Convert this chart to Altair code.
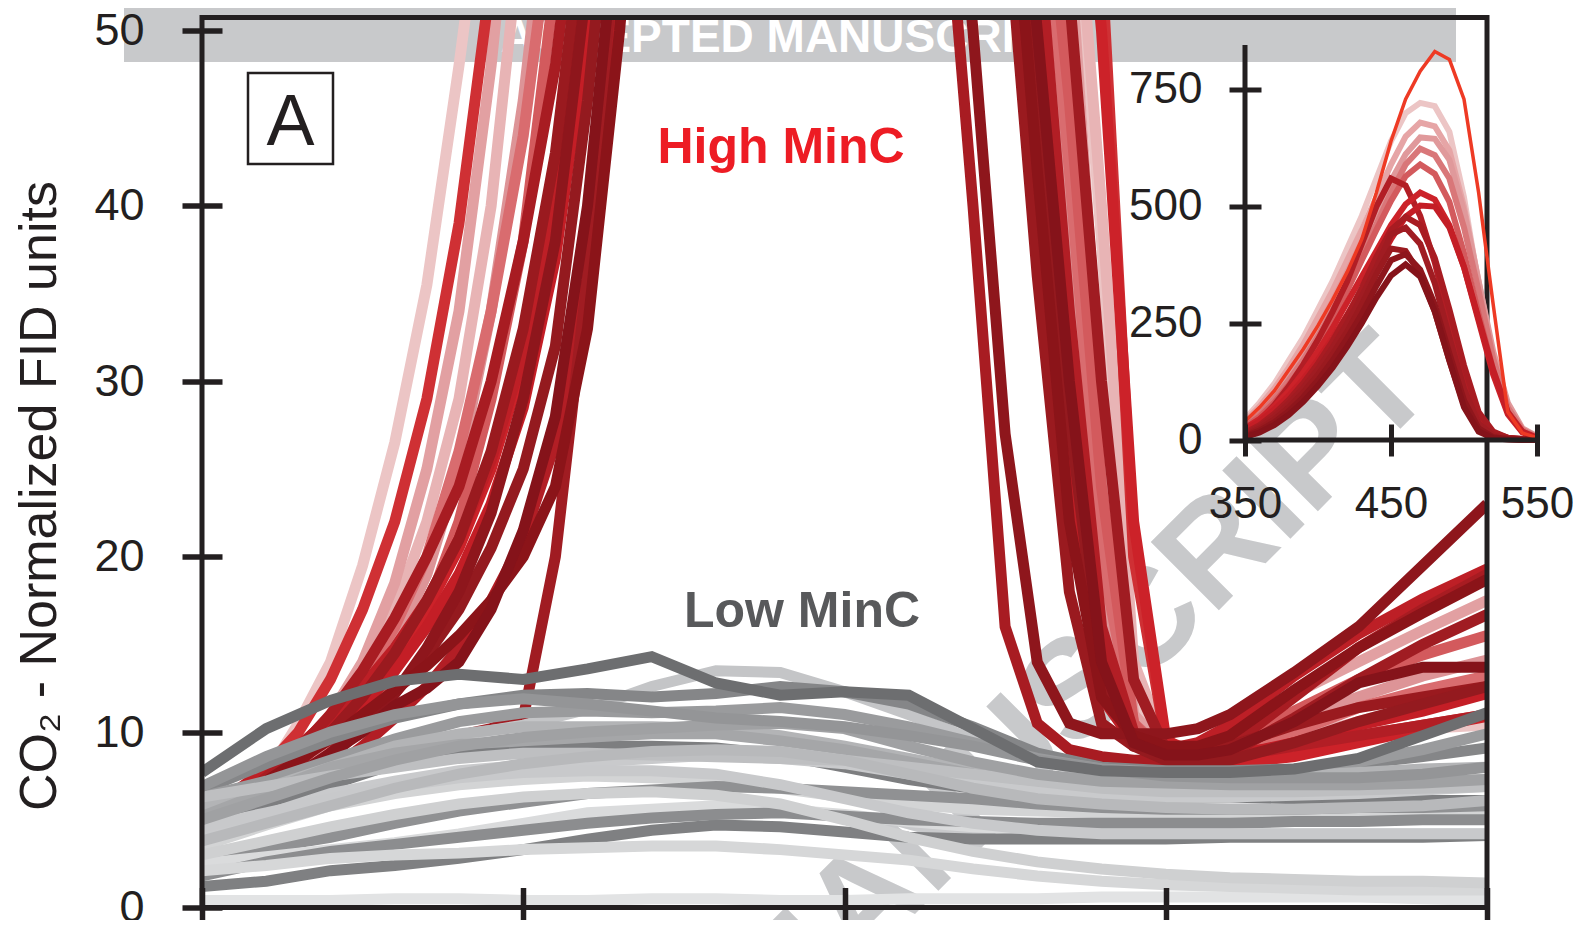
import altair as alt
import pandas as pd

FONT = "Liberation Sans"
INK = "#231f20"

# ---------------- main panel data ----------------
T_GRAY = list(range(300, 701, 20))
GRAY_COLORS = ["#c4c5c7", "#858688", "#9a9b9d", "#b3b4b6", "#7d7e80", "#a5a6a8", "#c9cacc",
               "#d3d4d5", "#909193", "#bebfc1", "#dadbdc", "#7f8082", "#8c8d8f", "#e2e3e4",
               "#d6d7d8", "#cfd0d1", "#c8c9cb", "#a0a1a3", "#b8b9bb", "#949597", "#6d6e70"]
GRAY_VALUES = [
    [5.5, 6.8, 8.0, 9.0, 9.8, 10.4, 11.3, 12.6, 13.5, 13.4, 12.3, 11.0, 9.6, 8.4, 7.6, 7.2, 7.0, 6.9, 6.9, 7.0, 7.2],
    [6.7, 8.2, 9.6, 10.8, 11.6, 12.1, 12.2, 12.0, 12.2, 12.6, 12.3, 11.6, 10.3, 8.8, 8.0, 7.8, 7.8, 7.9, 8.2, 8.6, 9.1],
    [6.3, 7.2, 8.4, 9.6, 10.6, 11.1, 11.2, 11.1, 11.2, 11.4, 11.0, 10.3, 9.4, 8.5, 7.9, 7.7, 7.6, 7.8, 8.3, 9.0, 9.9],
    [5.7, 6.8, 8.0, 9.2, 9.9, 10.3, 10.3, 10.3, 10.2, 9.8, 9.2, 8.5, 7.8, 7.4, 7.3, 7.3, 7.4, 7.5, 7.7, 7.9, 8.0],
    [4.6, 5.8, 7.0, 8.2, 8.9, 9.2, 9.2, 9.2, 9.1, 8.7, 8.0, 7.3, 6.8, 6.5, 6.4, 6.3, 6.3, 6.2, 6.2, 6.1, 6.1],
    [5.2, 6.6, 8.0, 8.8, 9.3, 9.5, 9.7, 9.9, 9.9, 9.5, 9.0, 8.3, 7.6, 7.2, 7.0, 7.0, 7.0, 7.1, 7.1, 7.2, 7.3],
    [4.0, 5.3, 6.5, 7.2, 7.8, 8.1, 8.3, 8.5, 8.7, 8.5, 8.2, 7.6, 7.0, 6.6, 6.4, 6.3, 6.3, 6.4, 6.5, 6.7, 6.9],
    [3.5, 4.7, 5.8, 6.5, 7.0, 7.3, 7.5, 7.4, 7.3, 6.8, 6.3, 5.9, 5.6, 5.5, 5.4, 5.4, 5.4, 5.4, 5.4, 5.4, 5.4],
    [2.9, 3.4, 4.0, 4.8, 5.5, 6.0, 6.5, 6.7, 6.9, 6.8, 6.6, 6.4, 6.2, 5.9, 5.7, 5.6, 5.6, 5.6, 5.7, 5.7, 5.8],
    [6.3, 6.9, 7.5, 8.0, 8.5, 8.8, 8.8, 8.7, 8.6, 8.5, 8.4, 8.0, 7.6, 7.2, 6.8, 6.6, 6.6, 6.6, 6.7, 6.8, 6.9],
    [2.5, 2.9, 3.3, 3.7, 4.2, 4.8, 5.4, 5.6, 5.8, 5.6, 5.3, 4.9, 4.6, 4.4, 4.3, 4.2, 4.2, 4.2, 4.2, 4.2, 4.2],
    [1.2, 1.5, 2.1, 2.4, 2.8, 3.3, 3.9, 4.4, 4.7, 4.6, 4.3, 4.0, 3.9, 3.9, 3.9, 3.9, 4.0, 4.0, 4.0, 4.0, 4.1],
    [1.8, 2.6, 3.2, 3.6, 4.0, 4.4, 4.8, 5.1, 5.3, 5.4, 5.2, 5.0, 4.9, 4.8, 4.8, 4.8, 4.8, 4.9, 4.9, 5.0, 5.0],
    [0.4, 0.4, 0.4, 0.5, 0.5, 0.4, 0.4, 0.5, 0.5, 0.4, 0.4, 0.5, 0.5, 0.5, 0.6, 0.6, 0.6, 0.6, 0.6, 0.5, 0.4],
    [2.1, 2.4, 2.8, 3.0, 3.1, 3.3, 3.4, 3.5, 3.5, 3.3, 3.0, 2.7, 2.2, 1.8, 1.5, 1.3, 1.2, 1.1, 1.0, 1.0, 1.0],
    [3.0, 3.8, 4.6, 5.3, 5.9, 6.3, 6.5, 6.6, 6.4, 5.9, 5.0, 4.0, 3.2, 2.6, 2.2, 1.9, 1.7, 1.6, 1.5, 1.5, 1.4],
    [4.6, 5.4, 6.2, 6.9, 7.4, 7.7, 7.8, 7.8, 7.6, 7.0, 6.2, 5.4, 4.8, 4.4, 4.2, 4.2, 4.2, 4.2, 4.2, 4.2, 4.2],
    [5.0, 6.2, 7.4, 8.4, 9.2, 9.7, 10.0, 10.2, 10.4, 10.5, 10.2, 9.2, 8.3, 7.6, 7.2, 7.1, 7.0, 7.0, 7.0, 7.1, 7.3],
    [3.8, 4.8, 5.8, 6.8, 7.6, 8.2, 8.6, 8.9, 9.0, 8.9, 8.4, 7.6, 6.8, 6.2, 5.9, 5.7, 5.6, 5.6, 5.7, 5.8, 6.1],
    [6.9, 8.6, 10.0, 11.0, 11.6, 11.9, 11.6, 11.2, 10.8, 10.6, 10.3, 9.8, 9.2, 8.4, 7.9, 7.5, 7.4, 7.4, 7.4, 7.6, 8.0],
    [7.7, 10.2, 11.8, 12.9, 13.3, 13.0, 13.6, 14.3, 12.8, 12.1, 12.3, 12.1, 10.2, 8.3, 7.8, 7.7, 7.7, 7.9, 8.5, 9.8, 11.1],
]

T_RED = [300, 310, 320, 330, 340, 350, 360, 370, 380, 390, 400, 410, 420, 430, 440,
         500, 530, 540, 550, 560, 570, 580, 590, 600, 610, 620, 640, 660, 680, 700]
RED_COLORS = ["#ecc5c5", "#e8b4b5", "#e2a0a2", "#dd9497", "#d96c6f", "#d35a5d", "#cf3034",
              "#cc2229", "#c41e26", "#bd1f26", "#b21e25", "#a81c22", "#a01c22", "#9a1a1f",
              "#941a1f", "#8e161c", "#8b1419", "#85131a"]
RED_VALUES = [
    [5.0, 6.0, 7.5, 10.5, 14.0, 19.5, 26.5, 35.5, 48.0, 62, 80, 100, 130, 160, 200,
     720, 300, 220, 160, 100, 62, 38, 12, 8.8, 8.6, 8.8, 9.6, 10.0, 10.2, 10.4],
    [4.4, 5.4, 6.6, 8.2, 10.2, 13.0, 17.0, 22.0, 29.0, 40, 57, 78, 102, 130, 165,
     700, 200, 150, 110, 85, 63, 40, 14, 9.2, 8.8, 8.8, 9.6, 10.6, 11.6, 12.2],
    [4.5, 5.5, 6.8, 8.5, 11.0, 14.0, 18.5, 25.0, 34.0, 48, 66, 88, 115, 145, 180,
     680, 260, 180, 120, 75, 55, 28, 11, 9.0, 9.2, 10.0, 12.2, 14.0, 15.8, 17.5],
    [4.0, 5.0, 6.0, 7.5, 9.5, 12.0, 15.0, 19.0, 25.0, 34, 46, 62, 82, 105, 135,
     650, 200, 140, 80, 58, 38, 18, 9.5, 8.6, 8.6, 9.0, 10.6, 12.0, 13.2, 14.1],
    [4.8, 5.8, 7.0, 8.6, 10.5, 13.0, 16.0, 20.0, 26.0, 34, 44, 58, 78, 100, 130,
     625, 130, 105, 82, 62, 42, 20, 10.5, 8.8, 8.6, 8.8, 10.0, 11.4, 12.4, 13.2],
    [3.8, 4.6, 5.6, 7.0, 8.8, 11.0, 13.5, 17.0, 22.0, 29, 38, 53, 72, 95, 125,
     590, 180, 120, 85, 64, 46, 24, 10.5, 8.4, 8.4, 9.0, 11.2, 13.0, 14.4, 15.5],
    [5.5, 6.5, 8.0, 10.0, 13.0, 17.0, 22.0, 29.0, 39.0, 53, 70, 90, 120, 150, 190,
     530, 380, 300, 200, 130, 80, 54, 20, 9.5, 8.8, 8.8, 9.2, 9.8, 10.4, 11.0],
    [5.2, 6.2, 7.4, 8.8, 10.4, 12.2, 14.4, 17.0, 20.5, 25, 31, 40, 54, 74, 98,
     520, 160, 130, 110, 95, 70, 50, 22, 9.6, 8.4, 8.2, 8.6, 9.4, 10.2, 10.9],
    [5.0, 6.0, 7.0, 8.3, 9.8, 11.5, 13.5, 16.0, 19.0, 23, 28.5, 37, 50, 68, 90,
     530, 110, 90, 72, 53, 32, 15, 9.8, 8.6, 8.4, 8.6, 9.4, 10.4, 11.2, 12.2],
    [5.5, 6.6, 7.8, 9.2, 10.8, 12.6, 14.8, 17.5, 21.0, 25.5, 31.5, 41, 56, 76, 100,
     505, 120, 85, 65, 46, 26, 12, 9.4, 9.0, 9.4, 10.4, 13.2, 15.6, 17.6, 19.3],
    [4.0, 4.8, 5.6, 6.6, 7.8, 9.2, 10.8, 12.6, 14.8, 17.5, 21, 26.5, 36, 53, 75,
     563, 110, 92, 74, 56, 34, 16, 10.0, 8.8, 8.6, 8.6, 9.2, 9.8, 10.4, 11.0],
    [5.0, 6.0, 7.4, 9.0, 11.0, 13.5, 16.5, 20.0, 24.0, 30, 38, 48, 63, 82, 105,
     478, 62, 40, 16, 10.5, 9.0, 8.6, 8.4, 8.4, 8.6, 9.2, 12.0, 14.8, 17.0, 19.0],
    [3.8, 4.5, 5.3, 6.2, 7.2, 8.0, 8.6, 9.2, 9.8, 10.2, 10.8, 20, 36, 58, 82,
     462, 120, 100, 88, 72, 52, 30, 13, 9.0, 8.6, 8.8, 10.8, 13.0, 15.0, 16.7],
    [4.5, 5.5, 6.8, 8.2, 10.0, 12.0, 14.5, 17.5, 21.0, 26, 33, 43, 58, 78, 100,
     414, 110, 78, 58, 36, 18, 10.5, 9.2, 8.8, 8.8, 9.2, 10.4, 11.4, 12.0, 12.6],
    [4.3, 5.2, 6.2, 7.4, 8.8, 10.4, 12.2, 14.4, 17.0, 20.5, 25, 32, 46, 64, 86,
     410, 95, 82, 68, 48, 28, 13, 9.2, 8.4, 8.2, 8.4, 9.4, 10.6, 11.6, 12.6],
    [4.2, 5.0, 6.0, 7.2, 8.6, 10.2, 12.2, 14.8, 18.0, 22.5, 29, 38, 53, 72, 95,
     400, 70, 50, 27, 14, 10.5, 9.9, 9.9, 9.9, 10.2, 11.0, 13.4, 16.0, 19.5, 23.0],
    [5.2, 6.2, 7.2, 8.4, 9.6, 11.0, 12.4, 13.8, 15.5, 17.5, 20, 24, 33, 50, 72,
     390, 105, 85, 64, 42, 22, 12, 9.8, 9.2, 9.2, 9.8, 12.4, 14.8, 16.8, 18.7],
    [4.6, 5.5, 6.5, 7.6, 8.8, 10.0, 11.5, 12.5, 14.0, 17, 21.5, 28, 40, 58, 80,
     378, 100, 85, 70, 50, 30, 14, 9.4, 8.7, 8.7, 9.0, 10.6, 12.8, 13.7, 13.7],
]

# ---------------- inset data ----------------
T_INSET = list(range(350, 551, 10))
INSET_COLORS = ["#ecc5c5", "#e6a5a6", "#e0999b", "#d97779", "#d35a5d", "#b21e25", "#cc2229",
                "#c41e26", "#a81c22", "#a01c22", "#9a1a1f", "#8e161c", "#85131a"]
INSET_VALUES = [
    [45, 80, 120, 170, 220, 280, 340, 410, 480, 560, 640, 700, 722, 715, 660, 520, 330, 160, 60, 20, 8],
    [40, 72, 110, 155, 205, 262, 320, 385, 450, 520, 590, 650, 680, 672, 620, 500, 340, 180, 70, 22, 8],
    [35, 62, 98, 140, 188, 240, 298, 360, 425, 490, 555, 612, 648, 645, 600, 490, 340, 190, 80, 25, 8],
    [30, 55, 88, 128, 172, 222, 278, 338, 400, 462, 530, 590, 624, 610, 560, 455, 320, 175, 70, 22, 6],
    [28, 50, 80, 118, 160, 208, 262, 320, 385, 450, 512, 565, 590, 570, 510, 400, 270, 150, 60, 18, 5],
    [20, 42, 75, 115, 162, 215, 275, 340, 420, 500, 560, 545, 480, 380, 250, 130, 50, 15, 5, 2, 1],
    [25, 45, 72, 105, 145, 190, 240, 295, 350, 405, 460, 505, 530, 515, 460, 370, 255, 140, 55, 16, 4],
    [22, 40, 65, 95, 130, 172, 218, 268, 320, 375, 430, 478, 502, 500, 455, 370, 260, 150, 60, 18, 5],
    [15, 32, 56, 86, 122, 164, 212, 266, 326, 392, 450, 478, 460, 390, 280, 160, 60, 18, 5, 2, 1],
    [12, 28, 50, 78, 112, 152, 198, 250, 308, 370, 440, 455, 420, 335, 220, 110, 35, 10, 3, 1, 0],
    [10, 24, 44, 70, 102, 140, 184, 232, 290, 355, 410, 405, 355, 275, 170, 75, 22, 6, 2, 1, 0],
    [8, 20, 38, 62, 92, 128, 170, 218, 270, 330, 385, 398, 365, 290, 185, 85, 25, 6, 2, 1, 0],
    [6, 16, 32, 54, 82, 116, 155, 200, 250, 305, 352, 376, 350, 275, 170, 70, 18, 4, 1, 0, 0],
]
ORANGE_VALUES = [40, 70, 105, 150, 195, 245, 300, 360, 430, 530, 640, 730, 790, 832, 815, 730, 530, 290, 60, 15, 5]

Y_TICKS = [0, 10, 20, 30, 40, 50]
X_TICKS = [300, 400, 500, 600, 700]
INSET_Y_TICKS = [0, 250, 500, 750]
INSET_X_TICKS = [350, 450, 550]


def long_table(prefix, xs, series):
    rows = []
    for i, vals in enumerate(series):
        assert len(vals) == len(xs)
        for x, v in zip(xs, vals):
            rows.append({"id": f"{prefix}{i:02d}", "x": x, "y": v})
    return pd.DataFrame(rows)


gray_df = long_table("g", T_GRAY, GRAY_VALUES)
red_df = long_table("r", T_RED, RED_VALUES)
inset_df = long_table("i", T_INSET, INSET_VALUES)
orange_df = pd.DataFrame({"x": T_INSET, "y": ORANGE_VALUES})
GRAY_IDS = [f"g{i:02d}" for i in range(len(GRAY_VALUES))]
RED_IDS = [f"r{i:02d}" for i in range(len(RED_VALUES))]
INSET_IDS = [f"i{i:02d}" for i in range(len(INSET_VALUES))]

W, H = 1285, 890
MAIN_LW = 11
INSET_LW = 6
one = alt.Data(values=[{}])

x_main = alt.Scale(domain=[300, 700], nice=False, zero=False)
y_main = alt.Scale(domain=[0, 50.74], nice=False, zero=False)

x_axis_main = alt.Axis(values=X_TICKS, labels=False, domain=False, grid=False, tickSize=40,
                       tickWidth=5.5, tickColor=INK, offset=-20, title=None, zindex=1)
y_axis_main = alt.Axis(values=Y_TICKS, domain=False, grid=False, tickSize=40, tickWidth=5.5,
                       tickColor=INK, offset=-20, labelFont=FONT, labelFontSize=45,
                       labelColor=INK, labelPadding=38, labelFlush=False, labelOverlap=False,
                       title="CO₂ - Normalized FID units", titleFont=FONT, titleFontSize=52,
                       titleFontWeight="normal", titleColor=INK, titlePadding=27, titleY=478,
                       zindex=1)

band = alt.Chart(one).mark_rect(color="#c8c9cb").encode(
    x=alt.value(-78), x2=alt.value(1254), y=alt.value(-12.5), y2=alt.value(44.5))
band_text = alt.Chart(one).mark_text(
    text="ACCEPTED MANUSCRIPT", font=FONT, fontSize=46, fontWeight="bold", color="white",
    align="center", baseline="alphabetic").encode(x=alt.value(585), y=alt.value(34.5))
watermark = alt.Chart(one).mark_text(
    text="ACCEPTED MANUSCRIPT", font=FONT, fontSize=140, fontWeight="bold", color="#c8c9cb",
    angle=315, align="center", baseline="middle").encode(x=alt.value(590), y=alt.value(960))

red = alt.Chart(red_df).mark_line(clip=True, strokeWidth=MAIN_LW).encode(
    x=alt.X("x:Q", scale=x_main, axis=x_axis_main),
    y=alt.Y("y:Q", scale=y_main, axis=y_axis_main),
    color=alt.Color("id:N", scale=alt.Scale(domain=RED_IDS, range=RED_COLORS), legend=None),
    size=alt.value(MAIN_LW),
)
gray = alt.Chart(gray_df).mark_line(clip=True, strokeWidth=MAIN_LW).encode(
    x=alt.X("x:Q", scale=x_main, axis=x_axis_main),
    y=alt.Y("y:Q", scale=y_main, axis=y_axis_main),
    color=alt.Color("id:N", scale=alt.Scale(domain=GRAY_IDS, range=GRAY_COLORS), legend=None),
    size=alt.value(MAIN_LW),
)

high_txt = alt.Chart(one).mark_text(
    text="High MinC", font=FONT, fontSize=50, fontWeight="bold", color="#ed1c24",
    align="center", baseline="alphabetic").encode(x=alt.value(579), y=alt.value(145.5))
low_txt = alt.Chart(one).mark_text(
    text="Low MinC", font=FONT, fontSize=50, fontWeight="bold", color="#58595b",
    align="center", baseline="alphabetic").encode(x=alt.value(600), y=alt.value(609.5))
box = alt.Chart(one).mark_rect(fillOpacity=0, stroke=INK, strokeWidth=2.5).encode(
    x=alt.value(46), x2=alt.value(131), y=alt.value(55.5), y2=alt.value(146.5))
box_a = alt.Chart(one).mark_text(
    text="A", font=FONT, fontSize=72, color=INK, align="center",
    baseline="alphabetic").encode(x=alt.value(88.5), y=alt.value(127.5))
frame = alt.Chart(one).mark_rect(fillOpacity=0, stroke=INK, strokeWidth=5).encode(
    x=alt.value(0), x2=alt.value(W), y=alt.value(0), y2=alt.value(H))

main = alt.layer(band, band_text, watermark, red, gray, high_txt, low_txt, box, box_a,
                 frame).resolve_scale(color="independent")

# ---------------- inset ----------------
x_in = alt.Scale(domain=[350, 550], range=[1043, 1335], nice=False, zero=False)
y_in = alt.Scale(domain=[0, 846], range=[422.5, 27.5], nice=False, zero=False)
x_axis_in = alt.Axis(orient="bottom", values=INSET_X_TICKS, domain=False, grid=False,
                     tickSize=32, tickWidth=5, tickColor=INK, offset=-483.5,
                     labelFont=FONT, labelFontSize=44, labelColor=INK, labelPadding=26,
                     labelFlush=False, labelOverlap=False, title=None, zindex=1)
y_axis_in = alt.Axis(orient="left", values=INSET_Y_TICKS, domain=False, grid=False,
                     tickSize=32, tickWidth=5, tickColor=INK, offset=-1059,
                     labelFont=FONT, labelFontSize=44, labelColor=INK, labelPadding=27,
                     labelFlush=False, labelOverlap=False, title=None, zindex=1)

inset_lines = alt.Chart(inset_df).mark_line(strokeWidth=INSET_LW).encode(
    x=alt.X("x:Q", scale=x_in, axis=x_axis_in),
    y=alt.Y("y:Q", scale=y_in, axis=y_axis_in),
    color=alt.Color("id:N", scale=alt.Scale(domain=INSET_IDS, range=INSET_COLORS), legend=None),
    size=alt.value(INSET_LW),
)
orange = alt.Chart(orange_df).mark_line(color="#ee3a24", strokeWidth=3.5).encode(
    x=alt.X("x:Q", scale=x_in, axis=x_axis_in),
    y=alt.Y("y:Q", scale=y_in, axis=y_axis_in),
    size=alt.value(3.5),
)
inset_frame_df = pd.DataFrame({"id": ["v", "v", "h", "h"], "x": [350, 350, 350, 550],
                               "y": [0, 846, 0, 0]})
inset_frame = alt.Chart(inset_frame_df).mark_line(color=INK, strokeWidth=5).encode(
    x=alt.X("x:Q", scale=x_in, axis=x_axis_in),
    y=alt.Y("y:Q", scale=y_in, axis=y_axis_in),
    detail="id:N",
)
inset = alt.layer(inset_lines, orange, inset_frame)

chart = alt.layer(main, inset).resolve_scale(
    x="independent", y="independent", color="independent"
).properties(
    width=W, height=H,
    autosize=alt.AutoSizeParams(type="none"),
    padding={"left": 194, "top": 9.5, "right": 86, "bottom": 12.5},
).configure_view(stroke=None).configure(font=FONT)

chart.save("out.html", embed_options={"renderer": "svg", "actions": False})
